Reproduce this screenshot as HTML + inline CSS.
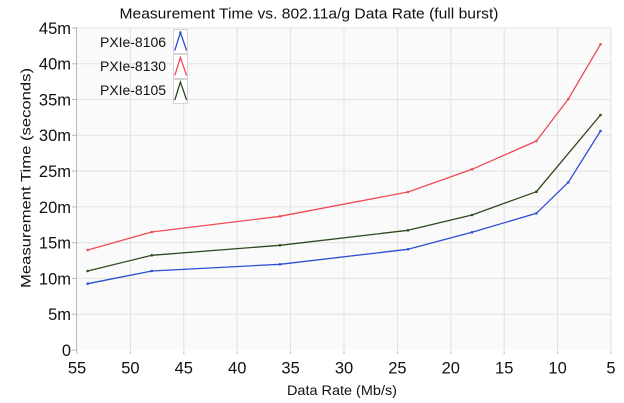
<!DOCTYPE html>
<html><head><meta charset="utf-8"><style>
html,body{margin:0;padding:0;background:#fff;}
svg{display:block;font-family:"Liberation Sans",sans-serif;}
</style></head><body>
<svg width="624" height="403" viewBox="0 0 624 403" xmlns="http://www.w3.org/2000/svg">
<rect x="0" y="0" width="624" height="403" fill="#ffffff"/>
<text x="309" y="18.5" font-size="15" text-anchor="middle" textLength="379" lengthAdjust="spacingAndGlyphs" fill="#111">Measurement Time vs. 802.11a/g Data Rate (full burst)</text>
<rect x="77" y="28" width="534" height="322" fill="#fafafa"/>
<g stroke="#e2e2e2" stroke-width="1">
<line x1="130.4" y1="28" x2="130.4" y2="350"/>
<line x1="183.8" y1="28" x2="183.8" y2="350"/>
<line x1="237.2" y1="28" x2="237.2" y2="350"/>
<line x1="290.6" y1="28" x2="290.6" y2="350"/>
<line x1="344" y1="28" x2="344" y2="350"/>
<line x1="397.4" y1="28" x2="397.4" y2="350"/>
<line x1="450.8" y1="28" x2="450.8" y2="350"/>
<line x1="504.2" y1="28" x2="504.2" y2="350"/>
<line x1="557.6" y1="28" x2="557.6" y2="350"/>
<line x1="611" y1="28" x2="611" y2="350"/>
<line x1="77" y1="314.2" x2="611" y2="314.2"/>
<line x1="77" y1="278.4" x2="611" y2="278.4"/>
<line x1="77" y1="242.7" x2="611" y2="242.7"/>
<line x1="77" y1="206.9" x2="611" y2="206.9"/>
<line x1="77" y1="171.1" x2="611" y2="171.1"/>
<line x1="77" y1="135.3" x2="611" y2="135.3"/>
<line x1="77" y1="99.5" x2="611" y2="99.5"/>
<line x1="77" y1="63.8" x2="611" y2="63.8"/>
<line x1="77" y1="28" x2="611" y2="28"/>
</g>
<g stroke="#b8b8b8" stroke-width="1">
<line x1="76.5" y1="27" x2="76.5" y2="351"/>
<line x1="72" y1="350" x2="77" y2="350"/>
<line x1="72" y1="314.2" x2="77" y2="314.2"/>
<line x1="72" y1="278.4" x2="77" y2="278.4"/>
<line x1="72" y1="242.7" x2="77" y2="242.7"/>
<line x1="72" y1="206.9" x2="77" y2="206.9"/>
<line x1="72" y1="171.1" x2="77" y2="171.1"/>
<line x1="72" y1="135.3" x2="77" y2="135.3"/>
<line x1="72" y1="99.5" x2="77" y2="99.5"/>
<line x1="72" y1="63.8" x2="77" y2="63.8"/>
<line x1="72" y1="28" x2="77" y2="28"/>
<line x1="77" y1="351" x2="77" y2="354"/>
<line x1="130.4" y1="351" x2="130.4" y2="354"/>
<line x1="183.8" y1="351" x2="183.8" y2="354"/>
<line x1="237.2" y1="351" x2="237.2" y2="354"/>
<line x1="290.6" y1="351" x2="290.6" y2="354"/>
<line x1="344" y1="351" x2="344" y2="354"/>
<line x1="397.4" y1="351" x2="397.4" y2="354"/>
<line x1="450.8" y1="351" x2="450.8" y2="354"/>
<line x1="504.2" y1="351" x2="504.2" y2="354"/>
<line x1="557.6" y1="351" x2="557.6" y2="354"/>
<line x1="611" y1="351" x2="611" y2="354"/>
</g>
<g font-size="16.5" fill="#111" text-anchor="end">
<text x="71" y="356">0</text>
<text x="71" y="320">5m</text>
<text x="71" y="284.3">10m</text>
<text x="71" y="248.6">15m</text>
<text x="71" y="212.8">20m</text>
<text x="71" y="177">25m</text>
<text x="71" y="141.2">30m</text>
<text x="71" y="105.4">35m</text>
<text x="71" y="69.7">40m</text>
<text x="71" y="34">45m</text>
</g>
<g font-size="16.5" fill="#111" text-anchor="middle">
<text x="77" y="373.5">55</text>
<text x="130.4" y="373.5">50</text>
<text x="183.8" y="373.5">45</text>
<text x="237.2" y="373.5">40</text>
<text x="290.6" y="373.5">35</text>
<text x="344" y="373.5">30</text>
<text x="397.4" y="373.5">25</text>
<text x="450.8" y="373.5">20</text>
<text x="504.2" y="373.5">15</text>
<text x="557.6" y="373.5">10</text>
<text x="611" y="373.5">5</text>
</g>
<text x="342" y="395" font-size="14" text-anchor="middle" textLength="110" lengthAdjust="spacingAndGlyphs" fill="#111">Data Rate (Mb/s)</text>
<text transform="translate(30.5,178) rotate(-90)" x="0" y="0" font-size="14" text-anchor="middle" textLength="220" lengthAdjust="spacingAndGlyphs" fill="#111">Measurement Time (seconds)</text>
<g fill="none" stroke-width="1.3" stroke-linejoin="round">
<polyline stroke="#ee4b56" points="87.7,250 151.8,232 280,216.3 408,192 472,169.3 536.4,141 568.3,99 600.5,44.3"/>
<polyline stroke="#2d4a1c" points="87.7,271 151.8,255.3 280,245.3 408,230.3 472,215 536.4,191.7 600.5,115"/>
<polyline stroke="#2a4fd2" points="87.7,283.7 151.8,271 280,264.3 408,249.3 472,232.3 536.4,213.3 568.3,182.3 600.5,131"/>
</g>
<g fill="#ee4b56"><circle cx="87.7" cy="250" r="1.3"/><circle cx="151.8" cy="232" r="1.3"/><circle cx="280" cy="216.3" r="1.3"/><circle cx="408" cy="192" r="1.3"/><circle cx="472" cy="169.3" r="1.3"/><circle cx="536.4" cy="141" r="1.3"/><circle cx="568.3" cy="99" r="1.3"/><circle cx="600.5" cy="44.3" r="1.3"/></g>
<g fill="#2d4a1c"><circle cx="87.7" cy="271" r="1.3"/><circle cx="151.8" cy="255.3" r="1.3"/><circle cx="280" cy="245.3" r="1.3"/><circle cx="408" cy="230.3" r="1.3"/><circle cx="472" cy="215" r="1.3"/><circle cx="536.4" cy="191.7" r="1.3"/><circle cx="600.5" cy="115" r="1.3"/></g>
<g fill="#2a4fd2"><circle cx="87.7" cy="283.7" r="1.3"/><circle cx="151.8" cy="271" r="1.3"/><circle cx="280" cy="264.3" r="1.3"/><circle cx="408" cy="249.3" r="1.3"/><circle cx="472" cy="232.3" r="1.3"/><circle cx="536.4" cy="213.3" r="1.3"/><circle cx="568.3" cy="182.3" r="1.3"/><circle cx="600.5" cy="131" r="1.3"/></g>
<g font-size="14" fill="#111">
<text x="100" y="47" textLength="66" lengthAdjust="spacingAndGlyphs">PXIe-8106</text>
<text x="100" y="71" textLength="66" lengthAdjust="spacingAndGlyphs">PXIe-8130</text>
<text x="100" y="95" textLength="66" lengthAdjust="spacingAndGlyphs">PXIe-8105</text>
</g>
<g fill="#ffffff" stroke="#d4d4d4" stroke-width="1">
<rect x="173.5" y="29.5" width="14" height="24"/>
<rect x="173.5" y="54.5" width="14" height="24"/>
<rect x="173.5" y="79.5" width="14" height="24"/>
</g>
<g fill="none" stroke-width="1.3">
<polyline stroke="#2a4fd2" points="174.8,50.5 180.4,32.5 186.6,50.5"/>
<polyline stroke="#ee4b56" points="174.8,75.5 180.4,57.5 186.6,75.5"/>
<polyline stroke="#2d4a1c" points="174.8,100 180.4,82 186.6,100"/>
</g>
<circle cx="180.4" cy="32.5" r="1.2" fill="#2a4fd2"/>
</svg>
</body></html>
